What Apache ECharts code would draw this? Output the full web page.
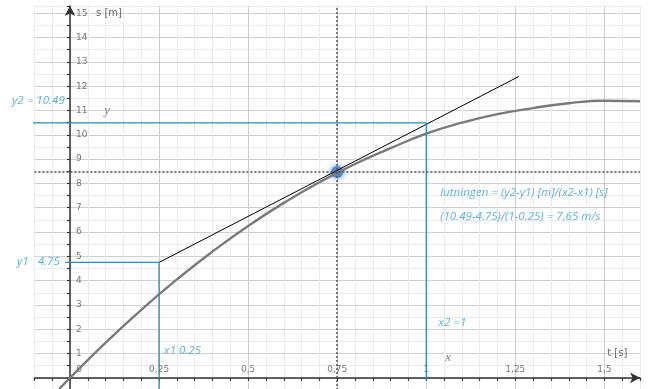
<!DOCTYPE html>
<html><head><meta charset="utf-8">
<script src="https://cdn.jsdelivr.net/npm/echarts@6/dist/echarts.min.js"></script>
<style>html,body{margin:0;padding:0;background:#fff}#c{width:652px;height:389px}</style>
</head><body><div id="c"></div>
<script>
// Curve s(t)
const curveT = [-0.03, 0, 0.1, 0.2, 0.3, 0.4, 0.5, 0.6, 0.7, 0.8, 0.9, 1.0, 1.1, 1.2, 1.3, 1.4, 1.5, 1.6];
const curveS = [-0.45, 0, 1.45, 2.8, 4.05, 5.2, 6.25, 7.2, 8.05, 8.8, 9.45, 10.05, 10.5, 10.85, 11.1, 11.3, 11.4, 11.38];
// Tangent line (secant drawn in black)
const tangentT = [0.25, 1.26];
const tangentS = [4.75, 12.4];
// Point of tangency
const pointT = 0.75, pointS = 8.47;
// Construction values
const x1 = 0.25, y1 = 4.75, x2 = 1, y2 = 10.49;
// Tick labels
const xTickValues = [0, 0.25, 0.5, 0.75, 1, 1.25, 1.5];
const xTickLabels = ['0', '0,25', '0,5', '0,75', '1', '1,25', '1,5'];
const yTickValues = [1,2,3,4,5,6,7,8,9,10,11,12,13,14,15];
const yTickLabels = ['1','2','3','4','5','6','7','8','9','10','11','12','13','14','15'];
// Annotations
const annoText = ['y2 = 10.49', 'y1   4.75', 'x1 0.25', 'x2 =1', 'lutningen = (y2-y1) [m]/(x2-x1) [s]', '(10.49-4.75)/(1-0.25) = 7,65 m/s', 'y', 'x', 's [m]', 't [s]'];
const annoT = [-0.163, -0.149, 0.264, 1.034, 1.039, 1.039, 0.096, 1.053, 0.073, 1.508];
const annoS = [11.4, 4.77, 1.1, 2.26, 7.6, 6.62, 10.99, 0.82, 15.0, 0.99];
const annoKind = ['blue','blue','blue','blue','blue','blue','serif','serif','axis','axis'];

const chart = echarts.init(document.getElementById('c'), null, {renderer: 'canvas'});
const blue = '#2a8db5';
const blueText = '#3a9fd0';
const major = '#cfcfcf', minor = '#ebebeb';

const kindStyle = {
  blue: {color: blueText, fontStyle: 'italic', fontFamily: 'Open Sans', fontSize: 11.6},
  serif: {color: '#666', fontStyle: 'italic', fontFamily: 'Liberation Serif', fontSize: 13},
  axis: {color: '#444', fontFamily: 'DejaVu Sans', fontSize: 10}
};
const tickStyle = {color: '#555', fontFamily: 'DejaVu Sans', fontSize: 9};

const annoData = annoText.map((t, i) => ({
  value: [annoT[i], annoS[i]],
  label: Object.assign({show: true, formatter: t, position: 'right', distance: 0}, kindStyle[annoKind[i]])
}));
const xLabelData = xTickValues.map((v, i) => ({
  value: [v, 0],
  label: Object.assign({show: true, formatter: xTickLabels[i], position: 'top', distance: 4,
    offset: i === 0 ? [9, 0] : [0, 0]}, tickStyle)
}));
const yLabelData = yTickValues.map((v, i) => ({
  value: [0, v],
  label: Object.assign({show: true, formatter: yTickLabels[i], position: 'right', distance: 6}, tickStyle)
}));

chart.setOption({
  animation: false,
  backgroundColor: '#fff',
  grid: {left: 34.4, width: 605.6, top: 6, height: 384, containLabel: false, outerBoundsMode: 'none'},
  xAxis: {
    type: 'value', min: -0.1, max: 1.6, interval: 0.05,
    axisLine: {onZero: true, lineStyle: {color: '#333', width: 1.5}, symbol: ['none', 'arrow'], symbolSize: [8, 10]},
    axisTick: {show: true, length: 3, lineStyle: {color: '#333', width: 1.2}},
    axisLabel: {show: false},
    splitLine: {show: true, lineStyle: {color: [minor, minor, major, minor, minor], width: 1}}
  },
  yAxis: {
    type: 'value', min: -0.5, max: 15.3, interval: 0.5,
    axisLine: {onZero: true, lineStyle: {color: '#333', width: 1.5}, symbol: ['none', 'arrow'], symbolSize: [8, 10]},
    axisTick: {show: true, length: 3, lineStyle: {color: '#333', width: 1.2}},
    axisLabel: {show: false},
    splitLine: {show: true, lineStyle: {color: [minor, major], width: 1}}
  },
  series: [
    {
      type: 'line', smooth: true, showSymbol: false, silent: true,
      data: curveT.map((t, i) => [t, curveS[i]]),
      lineStyle: {color: '#7a7a7a', width: 2.4},
      markLine: {
        silent: true, symbol: 'none', label: {show: false},
        lineStyle: {type: [2, 2], color: '#555', width: 1.5},
        data: [{xAxis: pointT}, {yAxis: pointS}]
      }
    },
    {
      type: 'line', showSymbol: false, silent: true,
      data: tangentT.map((t, i) => [t, tangentS[i]]),
      lineStyle: {color: '#000', width: 1}
    },
    {
      type: 'line', showSymbol: false, silent: true, clip: false,
      data: [[-0.183, y2], [x2, y2], [x2, -0.1]],
      lineStyle: {color: blue, width: 1.3}
    },
    {
      type: 'line', showSymbol: false, silent: true, clip: false,
      data: [[-0.014, y1], [x1, y1], [x1, -0.5]],
      lineStyle: {color: blue, width: 1.3}
    },
    {
      type: 'scatter', silent: true,
      data: [[pointT, pointS]],
      symbolSize: 12,
      itemStyle: {color: '#4f86cc', shadowBlur: 6, shadowColor: 'rgba(60,110,200,0.9)', opacity: 0.95}
    },
    {type: 'scatter', silent: true, clip: false, symbolSize: 0, data: annoData},
    {type: 'scatter', silent: true, clip: false, symbolSize: 0, data: xLabelData},
    {type: 'scatter', silent: true, clip: false, symbolSize: 0, data: yLabelData}
  ]
});
</script>
</body></html>
